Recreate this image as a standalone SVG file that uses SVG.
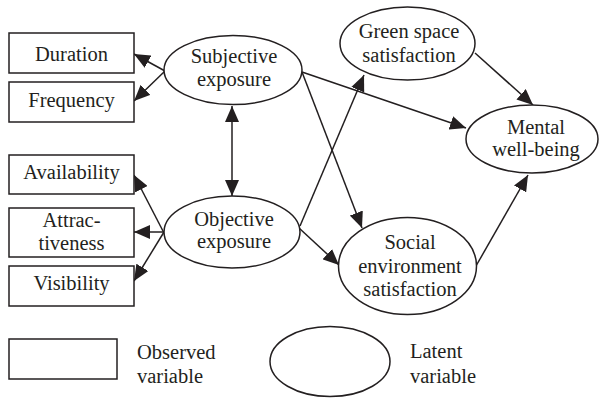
<svg xmlns="http://www.w3.org/2000/svg" width="600" height="399" viewBox="0 0 600 399">
<style>
.box{fill:#fff;stroke:#231f20;stroke-width:1.5}
.ell{fill:#fff;stroke:#231f20;stroke-width:1.5}
.t{font-family:"Liberation Serif","Times New Roman",serif;font-size:20.5px;fill:#231f20;text-anchor:middle}
.tl{font-family:"Liberation Serif","Times New Roman",serif;font-size:20.5px;fill:#231f20}
.c{stroke:#231f20;stroke-width:1.5;fill:none;marker-end:url(#ah)}
</style>
<defs>
<marker id="ah" viewBox="0 0 16 14" refX="16" refY="7" markerWidth="16" markerHeight="14" markerUnits="userSpaceOnUse" orient="auto-start-reverse">
<path d="M0,0 L16,7 L0,14 z" fill="#231f20"/>
</marker>
</defs>
<rect width="600" height="399" fill="#fff"/>
<g id="connectors">
<line class="c" x1="165" y1="71" x2="134" y2="54"/>
<line class="c" x1="165" y1="71" x2="134" y2="101"/>
<line class="c" x1="232" y1="106" x2="232" y2="196" style="marker-start:url(#ah)"/>
<line class="c" x1="164" y1="233" x2="134" y2="175"/>
<line class="c" x1="164" y1="232" x2="134" y2="232"/>
<line class="c" x1="164" y1="232" x2="134" y2="281"/>
<line class="c" x1="300" y1="226" x2="364" y2="75"/>
<line class="c" x1="299" y1="228" x2="339" y2="265"/>
<line class="c" x1="302" y1="72" x2="362" y2="228"/>
<line class="c" x1="302" y1="72" x2="466" y2="128"/>
<line class="c" x1="475" y1="53" x2="533" y2="105"/>
<line class="c" x1="476" y1="266" x2="528" y2="175"/>
</g>
<g id="duration"><rect class="box" x="9" y="33" width="125" height="40"/><text class="t" x="71.5" y="61">Duration</text></g>
<g id="frequency"><rect class="box" x="9" y="82" width="125" height="40"/><text class="t" x="71.5" y="107">Frequency</text></g>
<g id="availability"><rect class="box" x="9" y="155" width="125" height="39"/><text class="t" x="71.5" y="179">Availability</text></g>
<g id="attractiveness"><rect class="box" x="9" y="208" width="125" height="49"/><text class="t" x="71.5" y="227">Attrac-</text><text class="t" x="71.5" y="250">tiveness</text></g>
<g id="visibility"><rect class="box" x="9" y="266" width="125" height="40"/><text class="t" x="71.5" y="290">Visibility</text></g>
<g id="subjective"><ellipse class="ell" cx="233" cy="70" rx="69" ry="34.5"/><text class="t" x="234" y="63">Subjective</text><text class="t" x="234" y="86">exposure</text></g>
<g id="objective"><ellipse class="ell" cx="232" cy="232" rx="68" ry="36"/><text class="t" x="234" y="226">Objective</text><text class="t" x="234" y="248">exposure</text></g>
<g id="green"><ellipse class="ell" cx="407.5" cy="43.5" rx="67.5" ry="36.5"/><text class="t" x="409" y="38">Green space</text><text class="t" x="409" y="62">satisfaction</text></g>
<g id="mental"><ellipse class="ell" cx="532" cy="139" rx="66" ry="34"/><text class="t" x="536" y="134">Mental</text><text class="t" x="536" y="156">well-being</text></g>
<g id="social"><ellipse class="ell" cx="407.5" cy="266" rx="69" ry="48.5"/><text class="t" x="410" y="249">Social</text><text class="t" x="410" y="273">environment</text><text class="t" x="410" y="296">satisfaction</text></g>
<g id="legend-observed"><rect class="box" x="9" y="339" width="108" height="40"/><text class="tl" x="137" y="359">Observed</text><text class="tl" x="137" y="383">variable</text></g>
<g id="legend-latent"><ellipse class="ell" cx="330" cy="361.5" rx="60" ry="35"/><text class="tl" x="410" y="358">Latent</text><text class="tl" x="410" y="383">variable</text></g>
</svg>
